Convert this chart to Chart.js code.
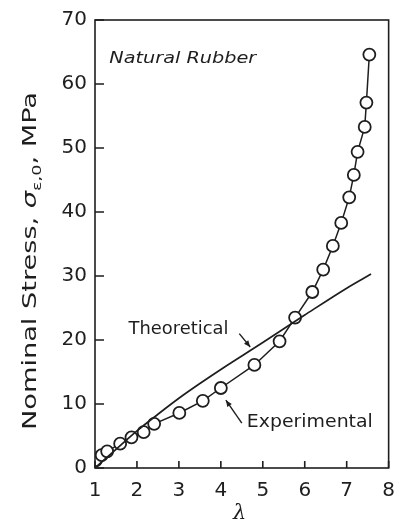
<!DOCTYPE html>
<html>
<head>
<meta charset="utf-8">
<script src="https://cdn.jsdelivr.net/npm/chart.js@4/dist/chart.umd.min.js"></script>
<style>
  html, body { margin: 0; padding: 0; background: #fff; }
  #wrap { width: 406px; height: 524px; }
</style>
</head>
<body>
<div id="wrap"><canvas id="chart" width="406" height="524"></canvas></div>
<script>
// values
const expLambda = [1.02, 1.16, 1.29, 1.60, 1.87, 2.16, 2.41, 3.01, 3.57, 4.00, 4.80, 5.40, 5.77, 6.18, 6.44, 6.67, 6.87, 7.06, 7.17, 7.26, 7.43, 7.47, 7.54];
const expStress = [1.2, 2.0, 2.6, 3.8, 4.8, 5.6, 6.9, 8.6, 10.5, 12.5, 16.1, 19.8, 23.5, 27.5, 31.0, 34.7, 38.3, 42.3, 45.8, 49.4, 53.3, 57.1, 64.6];
const theoLambda = [1.0, 1.5, 2.0, 2.5, 3.0, 3.5, 4.0, 5.0, 6.0, 7.0, 7.58];
const theoStress = [0.0, 2.9, 5.8, 8.4, 10.9, 13.2, 15.4, 19.6, 23.9, 28.1, 30.3];
const xTicks = [1, 2, 3, 4, 5, 6, 7, 8];
const yTicks = [0, 10, 20, 30, 40, 50, 60, 70];

const INK = "#1e1e1e";
const FONT = "'DejaVu Sans', sans-serif";

// helper to zip two arrays into {x, y} points
function toPoints(xs, ys) {
  return xs.map((x, i) => ({ x: x, y: ys[i] }));
}

// draw text stretched horizontally so it spans a given width
function wideText(ctx, text, x, y, width, font) {
  ctx.font = font;
  const sx = width / ctx.measureText(text).width;
  ctx.save();
  ctx.translate(x, y);
  ctx.scale(sx, 1);
  ctx.fillText(text, 0, 0);
  ctx.restore();
}

// draw a line with a small filled arrowhead at (x2, y2)
function arrow(ctx, x1, y1, x2, y2) {
  const a = Math.atan2(y2 - y1, x2 - x1);
  ctx.beginPath();
  ctx.moveTo(x1, y1);
  ctx.lineTo(x2, y2);
  ctx.stroke();
  ctx.beginPath();
  ctx.moveTo(x2, y2);
  ctx.lineTo(x2 - 7 * Math.cos(a - 0.4), y2 - 7 * Math.sin(a - 0.4));
  ctx.lineTo(x2 - 7 * Math.cos(a + 0.4), y2 - 7 * Math.sin(a + 0.4));
  ctx.closePath();
  ctx.fill();
}

// frame, inward ticks, axis titles and annotations
const decorations = {
  id: "decorations",
  afterDraw(chart) {
    const { ctx, chartArea: area, scales } = chart;
    const xs = scales.x, ys = scales.y;
    ctx.save();
    ctx.strokeStyle = INK;
    ctx.fillStyle = INK;
    ctx.lineWidth = 1.6;
    ctx.strokeRect(area.left, area.top, area.right - area.left, area.bottom - area.top);

    // tick marks pointing into the plot
    ctx.beginPath();
    yTicks.forEach(v => {
      const py = ys.getPixelForValue(v);
      ctx.moveTo(area.left, py);
      ctx.lineTo(area.left + 9, py);
    });
    xTicks.forEach(v => {
      const px = xs.getPixelForValue(v);
      ctx.moveTo(px, area.bottom);
      ctx.lineTo(px, area.bottom - 7);
    });
    ctx.stroke();

    // y title with subscript, stretched to the reference length
    ctx.save();
    ctx.translate(31, 261);
    ctx.rotate(-Math.PI / 2);
    ctx.textBaseline = "middle";
    ctx.textAlign = "left";
    const parts = [
      { t: "Nominal Stress, ", f: "20px " + FONT, dy: 0 },
      { t: "σ", f: "italic 20px " + FONT, dy: 0 },
      { t: "ε,0", f: "13px " + FONT, dy: 7 },
      { t: ", MPa", f: "20px " + FONT, dy: 0 }
    ];
    const plain = parts.reduce((s, p) => { ctx.font = p.f; return s + ctx.measureText(p.t).width; }, 0);
    ctx.scale(338 / plain, 1);
    let cx = -plain / 2;
    parts.forEach(p => {
      ctx.font = p.f;
      ctx.fillText(p.t, cx, p.dy);
      cx += ctx.measureText(p.t).width;
    });
    ctx.restore();

    // x title
    ctx.font = "italic 21px 'DejaVu Serif', serif";
    ctx.textAlign = "center";
    ctx.textBaseline = "alphabetic";
    ctx.fillText("λ", xs.getPixelForValue(4.45), 519);

    // annotations
    ctx.textAlign = "left";
    wideText(ctx, "Natural Rubber", xs.getPixelForValue(1.34), ys.getPixelForValue(63.3), 147, "oblique 16.5px " + FONT);
    wideText(ctx, "Theoretical", xs.getPixelForValue(1.8), ys.getPixelForValue(21.0), 100, "17.5px " + FONT);
    wideText(ctx, "Experimental", xs.getPixelForValue(4.62), ys.getPixelForValue(6.4), 126, "17.5px " + FONT);

    ctx.lineWidth = 1.4;
    arrow(ctx, xs.getPixelForValue(4.44), ys.getPixelForValue(21.0), xs.getPixelForValue(4.7), ys.getPixelForValue(18.9));
    arrow(ctx, xs.getPixelForValue(4.5), ys.getPixelForValue(7.0), xs.getPixelForValue(4.12), ys.getPixelForValue(10.6));
    ctx.restore();
  }
};

new Chart(document.getElementById("chart"), {
  type: "scatter",
  data: {
    datasets: [
      {
        label: "Theoretical",
        data: toPoints(theoLambda, theoStress),
        showLine: true,
        borderColor: INK,
        borderWidth: 1.7,
        pointRadius: 0,
        cubicInterpolationMode: "monotone"
      },
      {
        label: "Experimental",
        data: toPoints(expLambda, expStress),
        showLine: true,
        borderColor: INK,
        borderWidth: 1.5,
        backgroundColor: "#ffffff",
        pointRadius: 6,
        pointBorderWidth: 1.8,
        pointBorderColor: INK,
        pointBackgroundColor: "#ffffff"
      }
    ]
  },
  options: {
    responsive: false,
    animation: false,
    layout: { padding: { top: 15, right: 8, left: 0, bottom: 0 } },
    plugins: { legend: { display: false }, tooltip: { enabled: false } },
    scales: {
      x: {
        type: "linear",
        min: 1,
        max: 8,
        afterBuildTicks: s => { s.ticks = xTicks.map(v => ({ value: v })); },
        afterFit: s => { s.height = 56; },
        grid: { display: false, drawTicks: false },
        border: { display: false },
        ticks: { color: INK, padding: 11, maxRotation: 0, font: { family: FONT, size: 20 } }
      },
      y: {
        min: 0,
        max: 70,
        afterBuildTicks: s => { s.ticks = yTicks.map(v => ({ value: v })); },
        afterFit: s => { s.width = 95; },
        grid: { display: false, drawTicks: false },
        border: { display: false },
        ticks: { color: INK, padding: 8, font: { family: FONT, size: 20 } }
      }
    }
  },
  plugins: [decorations]
});
</script>
</body>
</html>
